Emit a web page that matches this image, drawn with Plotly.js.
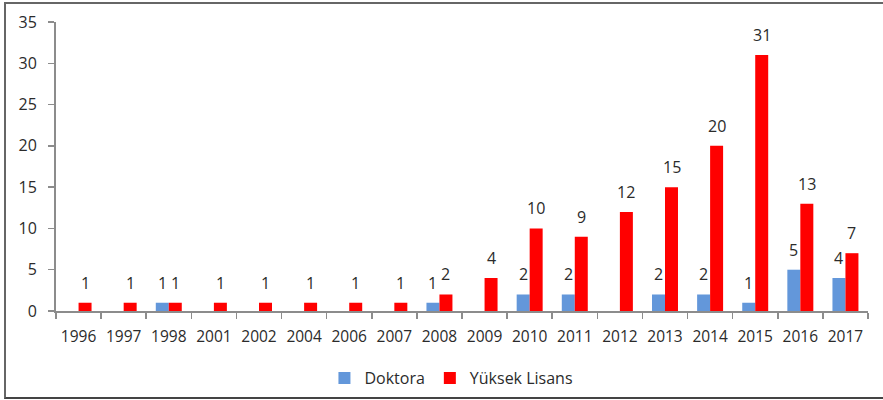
<!DOCTYPE html>
<html>
<head>
<meta charset="utf-8">
<script src="https://cdn.plot.ly/plotly-3.0.1.min.js"></script>
<style>
html,body{margin:0;padding:0;background:#fff;}
#wrap{position:relative;width:883px;height:400px;}
#chart{position:absolute;left:0;top:0;width:883px;height:400px;}
#frame{position:absolute;left:4px;top:2px;width:879px;height:393px;border-left:2px solid #666;border-top:2px solid #666;border-bottom:2px solid #444;pointer-events:none;}
</style>
</head>
<body>
<div id="wrap"><div id="chart"></div><div id="frame"></div></div>
<script>
var years = ["1996","1997","1998","2001","2002","2004","2006","2007","2008","2009","2010","2011","2012","2013","2014","2015","2016","2017"];
var doktora = [0,0,1,0,0,0,0,0,1,0,2,2,0,2,2,1,5,4];
var yuksekLisans = [1,1,1,1,1,1,1,1,2,4,10,9,12,15,20,31,13,7];
var seriesNames = ["Doktora","Yüksek Lisans"];
var colors = ["#6397DA","#FF0000"];

var font = "Open Sans, Noto Sans, sans-serif";
var textColor = "#2b2b2b";
var bargap = 0.424;
var off = (1 - bargap) / 4;

var traces = [
  {type:"bar", name:seriesNames[0], x:years, y:doktora, marker:{color:colors[0]}},
  {type:"bar", name:seriesNames[1], x:years, y:yuksekLisans, marker:{color:colors[1]}}
];

var annotations = [];
[doktora, yuksekLisans].forEach(function(arr, s){
  arr.forEach(function(v, i){
    if (v > 0) {
      annotations.push({
        x: i + (s === 0 ? -off : off), y: v, xref:"x", yref:"y",
        text: String(v), showarrow:false, yanchor:"bottom", xanchor:"center",
        yshift: 7, font:{family:font, size:16, color:textColor}
      });
    }
  });
});

var layout = {
  width:883, height:400,
  margin:{l:56, r:15, t:22, b:89, autoexpand:false},
  paper_bgcolor:"#ffffff", plot_bgcolor:"#ffffff",
  barmode:"group", bargap:bargap, bargroupgap:0,
  font:{family:font, size:16, color:textColor},
  showlegend:true,
  legend:{orientation:"h", x:0.487, xanchor:"center", y:-0.232, yanchor:"middle",
          font:{family:font, size:16, color:textColor}, traceorder:"normal"},
  xaxis:{type:"category", showline:true, linecolor:"#8c8c8c", linewidth:2,
         ticks:"outside", tickson:"boundaries", ticklen:6, tickcolor:"#8c8c8c", tickwidth:1.5,
         showgrid:false, zeroline:false, ticklabelstandoff:10, tickangle:0, automargin:false,
         tickfont:{family:font, size:15.5, color:textColor}},
  yaxis:{range:[0,35], dtick:5, tick0:0, showline:true, linecolor:"#8c8c8c", linewidth:2,
         ticks:"outside", ticklen:6, tickcolor:"#8c8c8c", tickwidth:1.5, automargin:false,
         showgrid:false, zeroline:false, ticklabelstandoff:8,
         tickfont:{family:font, size:16, color:textColor}},
  annotations:annotations
};

Plotly.newPlot("chart", traces, layout, {displayModeBar:false, staticPlot:true});
</script>
</body>
</html>
